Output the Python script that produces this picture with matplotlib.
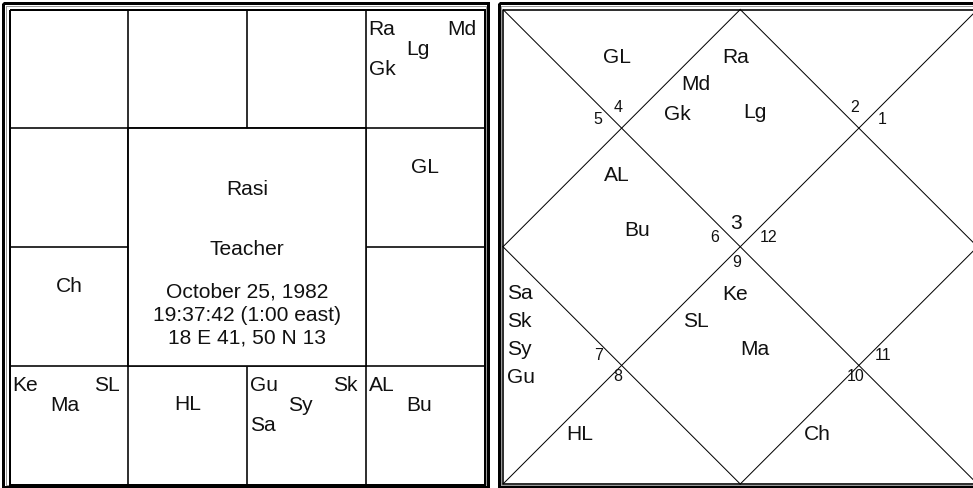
import matplotlib.pyplot as plt

# chart data
asc_sign = 3
signs = [3, 4, 6, 7, 8, 9, 10]
bodies = [["Ra", "Lg", "Md", "Gk"], ["GL"], ["AL", "Bu"], ["Gu", "Sy", "Sk", "Sa"],
          ["HL"], ["Ke", "Ma", "SL"], ["Ch"]]
chart_title = "Rasi"
native_name = "Teacher"
birth_info = ["October 25, 1982", "19:37:42 (1:00 east)", "18 E 41, 50 N 13"]

FONT = "Liberation Sans"
PX = 0.72            # 1 pixel in points at dpi 100
BIG = 21 * PX        # main text size
SMALL = 16 * PX      # house numbers

fig = plt.figure(figsize=(9.73, 4.88), dpi=100)
ax = fig.add_axes([0, 0, 1, 1])
ax.set_xlim(0, 973)
ax.set_ylim(488, 0)
ax.axis("off")


def frame(x0, y0, x1, y1, w, color="black"):
    ax.plot([x0, x1, x1, x0, x0], [y0, y0, y1, y1, y0], color=color,
            lw=w * PX, solid_joinstyle="miter", solid_capstyle="butt")


def label(x, cy, s, ha="center", size=BIG):
    # cy is the middle of the capital letters, text placed on its baseline
    cap = size / PX * 0.716
    ax.text(x, cy + cap / 2, s, ha=ha, va="baseline", fontsize=size, family=FONT, color="#111111")


# ---------------- left: south indian chart ----------------
L0, T0, S0 = 9.5, 9.5, 475.0
cw = S0 / 4
frame(3, 3, 488, 486.5, 3)
frame(5.5, 5.5, 486, 484.5, 1, "#9a9a9a")
frame(L0, T0, L0 + S0, T0 + S0, 2)

for k in range(1, 4):
    x = L0 + k * cw
    y = T0 + k * cw
    if k == 2:
        ax.plot([x, x], [T0, T0 + cw], color="black", lw=1.6 * PX)
        ax.plot([x, x], [T0 + 3 * cw, T0 + S0], color="black", lw=1.6 * PX)
        ax.plot([L0, L0 + cw], [y, y], color="black", lw=1.6 * PX)
        ax.plot([L0 + 3 * cw, L0 + S0], [y, y], color="black", lw=1.6 * PX)
    else:
        ax.plot([x, x], [T0, T0 + S0], color="black", lw=1.6 * PX)
        ax.plot([L0, L0 + S0], [y, y], color="black", lw=1.6 * PX)
# clear the middle block
ax.fill([L0 + cw + 1, L0 + 3 * cw - 1, L0 + 3 * cw - 1, L0 + cw + 1],
        [T0 + cw + 1, T0 + cw + 1, T0 + 3 * cw - 1, T0 + 3 * cw - 1], color="white", zorder=2)
ax.plot([L0 + cw, L0 + cw], [T0 + cw, T0 + 3 * cw], color="black", lw=1.6 * PX, zorder=3)
ax.plot([L0 + 3 * cw, L0 + 3 * cw], [T0 + cw, T0 + 3 * cw], color="black", lw=1.6 * PX, zorder=3)
ax.plot([L0 + cw, L0 + 3 * cw], [T0 + cw, T0 + cw], color="black", lw=1.6 * PX, zorder=3)
ax.plot([L0 + cw, L0 + 3 * cw], [T0 + 3 * cw, T0 + 3 * cw], color="black", lw=1.6 * PX, zorder=3)

south_cell = {12: (0, 0), 1: (0, 1), 2: (0, 2), 3: (0, 3), 4: (1, 3), 5: (2, 3),
              6: (3, 3), 7: (3, 2), 8: (3, 1), 9: (3, 0), 10: (2, 0), 11: (1, 0)}

for sg, names in zip(signs, bodies):
    r, c = south_cell[sg]
    left = L0 + c * cw
    top = T0 + r * cw
    if len(names) == 1:
        label(left + cw / 2, top + 37, names[0])
        continue
    slots = [(left + 3, top + 17.5, "left"), (left + 41, top + 37.5, "left"),
             (left + cw - 8, top + 17.5, "right"), (left + 3, top + 58, "left")]
    for nm, (x, cy, ha) in zip(names, slots):
        label(x, cy, nm, ha=ha)

mx = L0 + S0 / 2
my = T0 + S0 / 2
label(mx, my - 60, chart_title)
label(mx, my, native_name)
for i, line in enumerate(birth_info):
    label(mx, my + 43 + 23 * i, line)

# ---------------- right: north indian chart ----------------
L1, T1, S1 = 503.0, 9.5, 474.5
frame(499, 3, 1000, 486.5, 3)
frame(501, 5.5, 1000, 484.5, 1, "#9a9a9a")
frame(L1, T1, L1 + S1 + 20, T1 + S1, 1.6)


def P(u, v):
    return L1 + u * S1, T1 + v * S1


lw_d = 1.0 * PX
for (ua, va), (ub, vb) in [((0, 0), (1, 1)), ((1, 0), (0, 1)), ((0.5, 0), (0, 0.5)),
                           ((0, 0.5), (0.5, 1)), ((0.5, 1), (1, 0.5)), ((1, 0.5), (0.5, 0))]:
    xa, ya = P(ua, va)
    xb, yb = P(ub, vb)
    ax.plot([xa, xb], [ya, yb], color="black", lw=lw_d)

C = P(0.5, 0.5)
TL = P(0.25, 0.25)
TR = P(0.75, 0.25)
BL = P(0.25, 0.75)
BR = P(0.75, 0.75)

# house -> (vertex, dx, dy) for the sign number
num_pos = {1: (C, -4, -25), 2: (TL, -3, -22), 3: (TL, -24, -10), 4: (C, -26, -10),
           5: (BL, -23, -11), 6: (BL, -4, 10), 7: (C, -4, 15), 8: (BR, -3, 10),
           9: (BR, 24, -11), 10: (C, 28, -10), 11: (TR, 23, -10), 12: (TR, -4, -22)}

for h in range(1, 13):
    sg = (asc_sign - 1 + h - 1) % 12 + 1
    (vx, vy), dx, dy = num_pos[h]
    label(vx + dx, vy + dy, str(sg), size=BIG if h == 1 else SMALL)

diamond_c = {1: P(0.5, 0.25), 4: P(0.25, 0.5), 7: P(0.5, 0.75), 10: P(0.75, 0.5)}
diamond_slots = [(-5, -73), (15, -18), (-44, -46), (-63, -16)]
top_tri = {2: P(0.25, 1 / 12), 12: P(0.75, 1 / 12)}
bot_tri = {6: P(0.25, 11 / 12), 8: P(0.75, 11 / 12)}
side_tri = {3: (TL, "left"), 5: (BL, "left"), 9: (BR, "right"), 11: (TR, "right")}

for sg, names in zip(signs, bodies):
    h = (sg - asc_sign) % 12 + 1
    if h in diamond_c:
        cx, cy = diamond_c[h]
        for nm, (dx, dy) in zip(names, diamond_slots):
            label(cx + dx, cy + dy, nm)
    elif h in top_tri:
        cx, cy = top_tri[h]
        for i, nm in enumerate(names):
            label(cx - 5, cy + 6 + 28 * i, nm)
    elif h in bot_tri:
        cx, cy = bot_tri[h]
        for i, nm in enumerate(names):
            label(cx - 42, cy - 12 - 28 * i, nm)
    else:
        (vx, vy), side = side_tri[h]
        x = L1 + 4 if side == "left" else L1 + S1 - 4
        for i, nm in enumerate(names):
            label(x, vy + 10 - 28 * i, nm, ha=side)

fig.savefig("out.png", dpi=100, facecolor="white")
